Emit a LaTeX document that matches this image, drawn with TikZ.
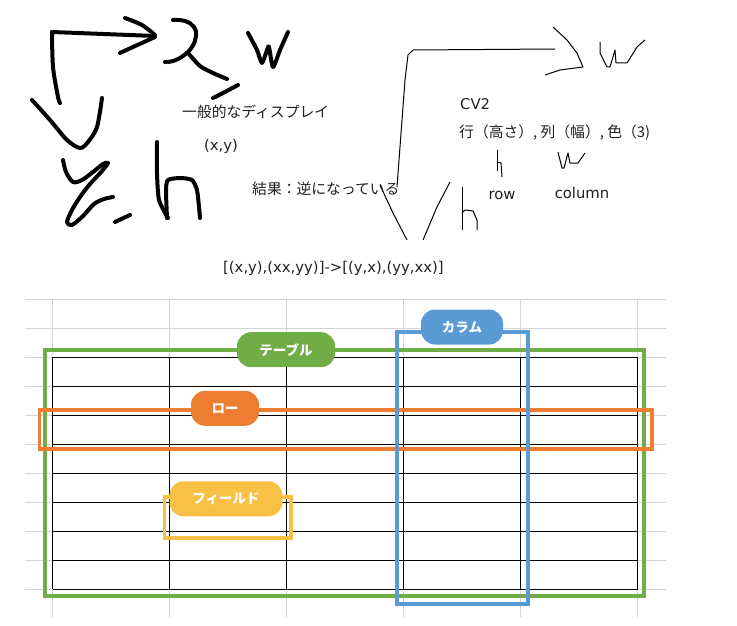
\documentclass[tikz,border=0pt]{standalone}
\usepackage{fontspec}
\setmainfont{DejaVu Sans}
\newfontfamily\jpfont{Noto Sans CJK JP}
\definecolor{memotext}{HTML}{202020}
\definecolor{gridgray}{HTML}{D4D4D4}
\definecolor{tablegreen}{HTML}{70AD47}
\definecolor{colblue}{HTML}{5B9BD5}
\definecolor{roworange}{HTML}{ED7D31}
\definecolor{fieldyellow}{HTML}{F8C044}
\begin{document}
\begin{tikzpicture}[x=1pt,y=-1pt,
  pen/.style={line width=4pt,line cap=round,line join=round},
  thinpen/.style={line width=1pt,line join=round},
  memo/.style={anchor=west,inner sep=0pt,text=memotext,font=\fontsize{14.8}{16}\selectfont},
  jpmemo/.style={memo,font=\jpfont\fontsize{14.8}{17}\selectfont},
  gridline/.style={draw=gridgray,line width=1pt},
  cell/.style={line width=1pt},
  frame/.style={line width=3.8pt},
  pill/.style={fill=#1,rounded corners=14pt,text=white,inner sep=0pt,
    minimum height=35pt,font=\jpfont\bfseries\fontsize{13.5}{15}\selectfont}]
\useasboundingbox (0,0) rectangle (737,626);
% hand drawn display axes
\draw[pen] (52,32) -- (155,36);
\draw[pen] plot[smooth,tension=0.5] coordinates {(52,32) (53,67) (58,97) (60,103)};
\draw[pen] plot[smooth,tension=0.5] coordinates {(125,18) (142,25) (155,35)};
\draw[pen] plot[smooth,tension=0.5] coordinates {(155,37) (133,47) (120,53)};
\draw[pen] plot[smooth,tension=0.7] coordinates {(173,20) (185,21) (194,27) (196,36) (192,47) (183,56) (173,61) (165,62)};
\draw[pen] plot[smooth,tension=0.5] coordinates {(189,54) (200,66) (213,73) (227,79)};
\draw[pen] plot[smooth,tension=0.5] coordinates {(213,98) (223,93) (238,85)};
\draw[pen] plot[smooth,tension=0.4] coordinates {(248,33) (257,50) (262,63) (267,50) (269,47) (273,67) (280,50) (288,32)};
\draw[pen] plot[smooth,tension=0.5] coordinates {(32,100) (50,120) (67,140) (80,148) (88,142) (97,127) (102,98)};
\draw[pen] plot[smooth,tension=0.5] coordinates {(63,160) (66,172) (73,182) (82,180) (93,172) (103,164) (108,163) (102,171) (90,184) (80,197) (72,210) (67,222) (72,225) (83,216) (94,204) (104,199) (113,197)};
\draw[pen] (115,222) -- (130,215);
\draw[pen] plot[smooth,tension=0.4] coordinates {(157,142) (157,173) (159,200) (168,218)};
\draw[pen] plot[smooth,tension=0.4] coordinates {(167,218) (166,190) (168,180) (180,178) (192,180) (197,190) (199,207) (200,218)};
% hand drawn cv2 axes
\draw[thinpen] (555,49) -- (413,50) -- (408,55) -- (405,80) -- (397,187);
\draw[thinpen] (553,27) -- (567,40) -- (577,53) -- (583,67) -- (560,70) -- (545,75);
\draw[thinpen] (600,42) -- (600,53) -- (607,67) -- (610,67) -- (615,50) -- (616,63) -- (627,63) -- (637,47) -- (645,40);
\draw[thinpen] (380,185) -- (393,213) -- (407,240);
\draw[thinpen] (423,240) -- (437,207) -- (450,182);
\draw[thinpen] (462,187) -- (462,230);
\draw[thinpen] (462,213) -- (465,210) -- (473,211) -- (477,220) -- (477,230);
\draw[thinpen] (497,150) -- (497,171);
\draw[thinpen] (497,162) -- (501,163) -- (502,177);
\draw[thinpen] (558,152) -- (562,168) -- (564,168) -- (568,153) -- (570,163) -- (578,163) -- (585,153);
% notes
\node[jpmemo] (display) at (182,112) {一般的なディスプレイ};
\node[memo] (xy) at (204,146) {(x,y)};
\node[jpmemo] (result) at (252,189) {結果：逆になっている};
\node[memo] (cvtwo) at (460,104) {CV2};
\node[jpmemo] (shape) at (459,133) {行（高さ）, 列（幅）, 色（3)};
\node[memo,anchor=center] (rowword) at (502,195) {row};
\node[memo,anchor=center] (colword) at (582,193) {column};
\node[memo] (swap) at (223,268) {[(x,y),(xx,yy)]->[(y,x),(yy,xx)]};
% sheet grid
\foreach \i in {0,...,10}
  \draw[gridline] (25,{299.3+29*\i}) -- (666,{299.3+29*\i});
\foreach \i in {0,...,5}
  \draw[gridline] ({52.5+117.05*\i},299.3) -- ({52.5+117.05*\i},617);
\foreach \i in {0,...,8}
  \draw[cell] (52.5,{357.3+29*\i}) -- (637.75,{357.3+29*\i});
\foreach \i in {0,...,5}
  \draw[cell] ({52.5+117.05*\i},357.3) -- ({52.5+117.05*\i},589.3);
% frames
\draw[frame,tablegreen] (45,350) rectangle (644,596);
\draw[frame,roworange] (39.5,410) rectangle (652,449.3);
\draw[frame,colblue] (397,332) rectangle (528,604);
\draw[frame,fieldyellow] (164.5,497) rectangle (291.3,537.8);
\node[pill=tablegreen,minimum width=98pt] (tablelabel) at (286,349.7) {テーブル};
\node[pill=colblue,minimum width=82pt] (columnlabel) at (462,327) {カラム};
\node[pill=roworange,minimum width=68pt] (rowlabel) at (225,408.3) {ロー};
\node[pill=fieldyellow,minimum width=113pt] (fieldlabel) at (226,498.8) {フィールド};
\end{tikzpicture}
\end{document}
